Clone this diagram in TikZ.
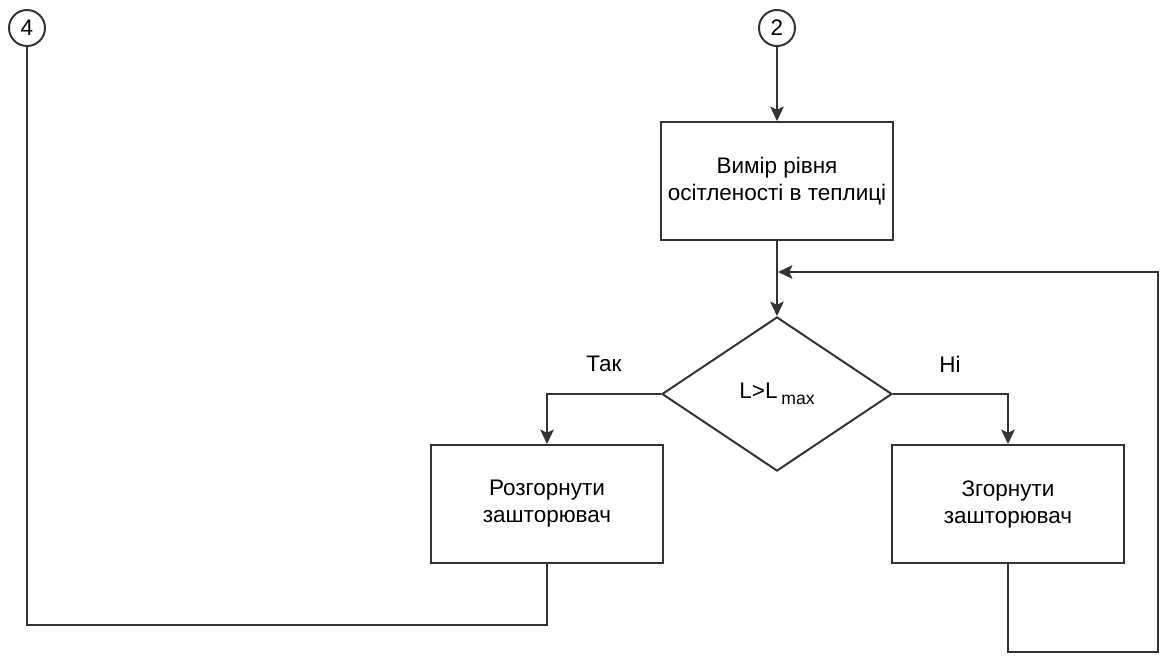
\documentclass[tikz,border=0pt]{standalone}
\usepackage{fontspec}
\setmainfont{Liberation Sans}
\usetikzlibrary{shapes.geometric,arrows.meta}

\begin{document}
\begin{tikzpicture}[
    x=0.025cm, y=-0.025cm,
    every node/.style={font=\fontsize{16}{19.2}\selectfont, text=black},
    line/.style={draw=black!80, line width=1.4pt},
    connector/.style={circle, line, fill=white, minimum size=0.9cm, inner sep=0pt},
    process/.style={rectangle, line, fill=white, minimum width=5.8cm, minimum height=2.95cm, align=center, inner sep=2pt},
    decision/.style={diamond, line, fill=white, minimum width=5.75cm, minimum height=3.85cm, inner sep=0pt},
    label/.style={inner sep=0pt},
    arrow/.style={line, -{Stealth[length=0.36cm, width=0.34cm, inset=0.08cm]}}
]
\useasboundingbox (0,0) rectangle (1160,657);

% Connectors
\node[connector] (c4) at (27,28) {4};
\node[connector] (c2) at (777,28) {2};

% Blocks
\node[process] (measure) at (777,181) {Вимір рівня\\осітленості в теплиці};
\node[decision] (check) at (777,394) {L>L\,\raisebox{-0.45ex}{\fontsize{12.5}{14}\selectfont max}};
\node[process] (unroll) at (547,504) {Розгорнути\\зашторювач};
\node[process] (roll) at (1008,504) {Згорнути\\зашторювач};

% Branch labels
\node[label] (yes) at (604,364) {Так};
\node[label] (no) at (950,364) {Ні};

% Loop corners
\coordinate (loopbot) at (1158,652);
\coordinate (looptop) at (1158,272);
\coordinate (loopend) at (778,272);
\coordinate (leftbot) at (27,625);

% Main flow
\draw[arrow] (c2) -- (measure);
\draw[arrow] (measure) -- (check);
\draw[arrow] (check.west) -| (unroll.north);
\draw[arrow] (check.east) -| (roll.north);

% Return paths
\draw[arrow] (roll.south) |- (loopbot) -- (looptop) -- (loopend);
\draw[line] (unroll.south) |- (leftbot) -- (c4.south);

\end{tikzpicture}
\end{document}
